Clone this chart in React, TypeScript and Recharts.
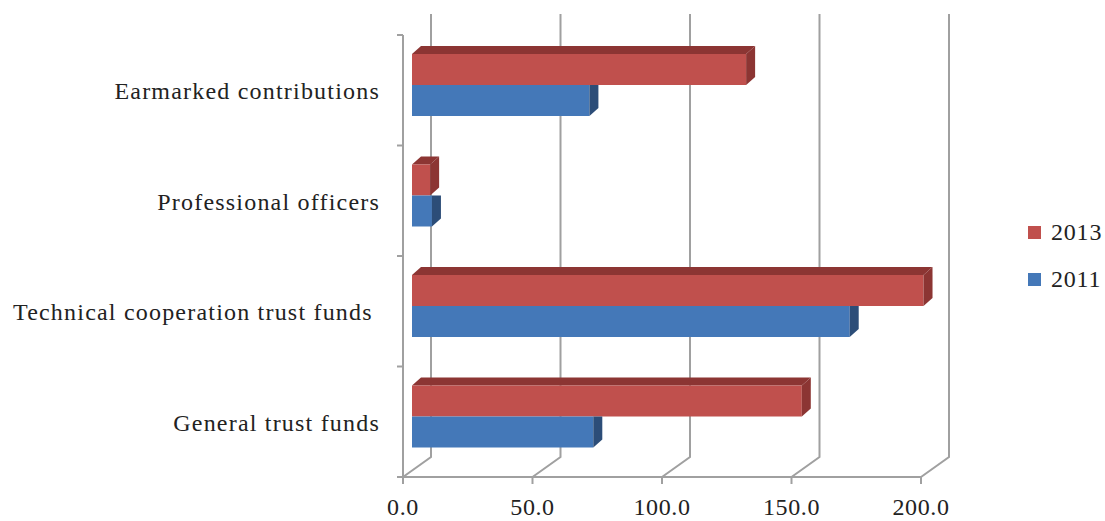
import React from "react";
import { BarChart, Bar, XAxis, YAxis, CartesianGrid, Legend } from "recharts";

const categories = [
  "Earmarked contributions",
  "Professional officers",
  "Technical cooperation trust funds ",
  "General trust funds",
];
const values2013 = [129, 7, 197.5, 150.5];
const values2011 = [68.5, 7.7, 169, 70];
const xTicks = [0, 50, 100, 150, 200];

const rows = categories.map((name, i) => ({
  name,
  y2013: values2013[i],
  y2011: values2011[i],
}));

const WIDTH = 1105;
const HEIGHT = 521;
const PLOT_LEFT = 403;
const PLOT_RIGHT = 921;
const PLOT_TOP = 35;
const PLOT_BOTTOM = 477;
const LEGEND_W = 78;
const BAND = (PLOT_BOTTOM - PLOT_TOP) / categories.length;

// Oblique offsets of the 3D projection
const WALL_DX = 28;
const WALL_DY = 20;
const BAR_DX = 9;
const BAR_DY = 8;
const BAR_LIFT = 5;

const AXIS = "#a0a0a0";
const FONT = '"Liberation Serif", "Times New Roman", serif';
const TEXT = "#222222";

const SERIES = [
  { key: "y2013", label: "2013", front: "#c0504d", top: "#8c3533", side: "#8c3533" },
  { key: "y2011", label: "2011", front: "#4478b8", top: "#2c4d78", side: "#2c4d78" },
];

// A box drawn in oblique projection: front face, right side and optionally the top
function box(front: string, side: string, top: string | null) {
  return (p: any) => {
    const x = p.x + BAR_DX;
    const y = p.y - BAR_LIFT;
    const w = p.width;
    const h = p.height;
    const r = x + w;
    return (
      <g>
        {top && (
          <polygon
            points={`${x},${y} ${x + BAR_DX},${y - BAR_DY} ${r + BAR_DX},${y - BAR_DY} ${r},${y}`}
            fill={top}
          />
        )}
        <rect x={x} y={y} width={w} height={h} fill={front} />
        <polygon
          points={
            top
              ? `${r},${y} ${r + BAR_DX},${y - BAR_DY} ${r + BAR_DX},${y + h - BAR_DY} ${r},${y + h}`
              : `${r},${y} ${r + BAR_DX},${y} ${r + BAR_DX},${y + h - BAR_DY} ${r},${y + h}`
          }
          fill={side}
        />
      </g>
    );
  };
}

// Gridline running along the floor from the front edge, then up the back wall
function wallLine(p: any) {
  const x = p.x1;
  return (
    <polyline
      key={`wall-${x}`}
      points={`${x},${PLOT_BOTTOM} ${x + WALL_DX},${PLOT_BOTTOM - WALL_DY} ${x + WALL_DX},${PLOT_TOP - 21}`}
      fill="none"
      stroke={AXIS}
      strokeWidth={2}
    />
  );
}

function CategoryTick(p: any) {
  const { y, payload, index } = p;
  const ax = PLOT_LEFT;
  return (
    <g>
      <line x1={ax - 6} x2={ax} y1={y + BAND / 2} y2={y + BAND / 2} stroke={AXIS} strokeWidth={2} />
      {index === 0 && (
        <line x1={ax - 6} x2={ax} y1={y - BAND / 2} y2={y - BAND / 2} stroke={AXIS} strokeWidth={2} />
      )}
      <text
        x={380}
        y={y + 1}
        textAnchor="end"
        dominantBaseline="central"
        fontFamily={FONT}
        fontSize={24}
        letterSpacing={1.2}
        fill={TEXT}
        style={{ whiteSpace: "pre" }}
      >
        {payload.value}
      </text>
    </g>
  );
}

function LegendBlock() {
  return (
    <div style={{ fontFamily: FONT, fontSize: 24, letterSpacing: 0.8, color: TEXT, whiteSpace: "nowrap" }}>
      {SERIES.map((s) => (
        <div key={s.key} style={{ display: "flex", alignItems: "center", height: 47 }}>
          <span
            style={{ width: 13, height: 13, background: s.front, display: "inline-block", marginRight: 10 }}
          />
          {s.label}
        </div>
      ))}
    </div>
  );
}

export default function App() {
  return (
    <div style={{ position: "absolute", left: 0, top: 0, width: WIDTH, height: HEIGHT, background: "#fff" }}>
      <BarChart
        width={WIDTH}
        height={HEIGHT}
        data={rows}
        layout="vertical"
        barSize={31}
        barGap={0}
        barCategoryGap={0}
        margin={{ left: 0, top: PLOT_TOP, right: WIDTH - PLOT_RIGHT - LEGEND_W, bottom: 0 }}
      >
        <CartesianGrid horizontal={false} vertical={wallLine as any} />
        <XAxis
          type="number"
          domain={[0, 200]}
          ticks={xTicks}
          interval={0}
          height={HEIGHT - PLOT_BOTTOM}
          tickFormatter={(v: number) => v.toFixed(1)}
          stroke={AXIS}
          strokeWidth={2}
          tickSize={7}
          tickMargin={14}
          tick={{ fontFamily: FONT, fontSize: 24, letterSpacing: 0.6, fill: TEXT }}
        />
        <YAxis
          type="category"
          dataKey="name"
          width={PLOT_LEFT}
          interval={0}
          axisLine={{ stroke: AXIS, strokeWidth: 2 }}
          tickLine={false}
          tick={CategoryTick as any}
        />
        <Legend
          layout="horizontal"
          verticalAlign="middle"
          align="right"
          content={LegendBlock as any}
          wrapperStyle={{ left: 1028, top: 209, width: LEGEND_W, right: "auto", bottom: "auto" }}
        />
        <Bar
          dataKey="y2013"
          isAnimationActive={false}
          shape={box(SERIES[0].front, SERIES[0].side, SERIES[0].top) as any}
        />
        <Bar
          dataKey="y2011"
          isAnimationActive={false}
          shape={box(SERIES[1].front, SERIES[1].side, null) as any}
        />
      </BarChart>
    </div>
  );
}
